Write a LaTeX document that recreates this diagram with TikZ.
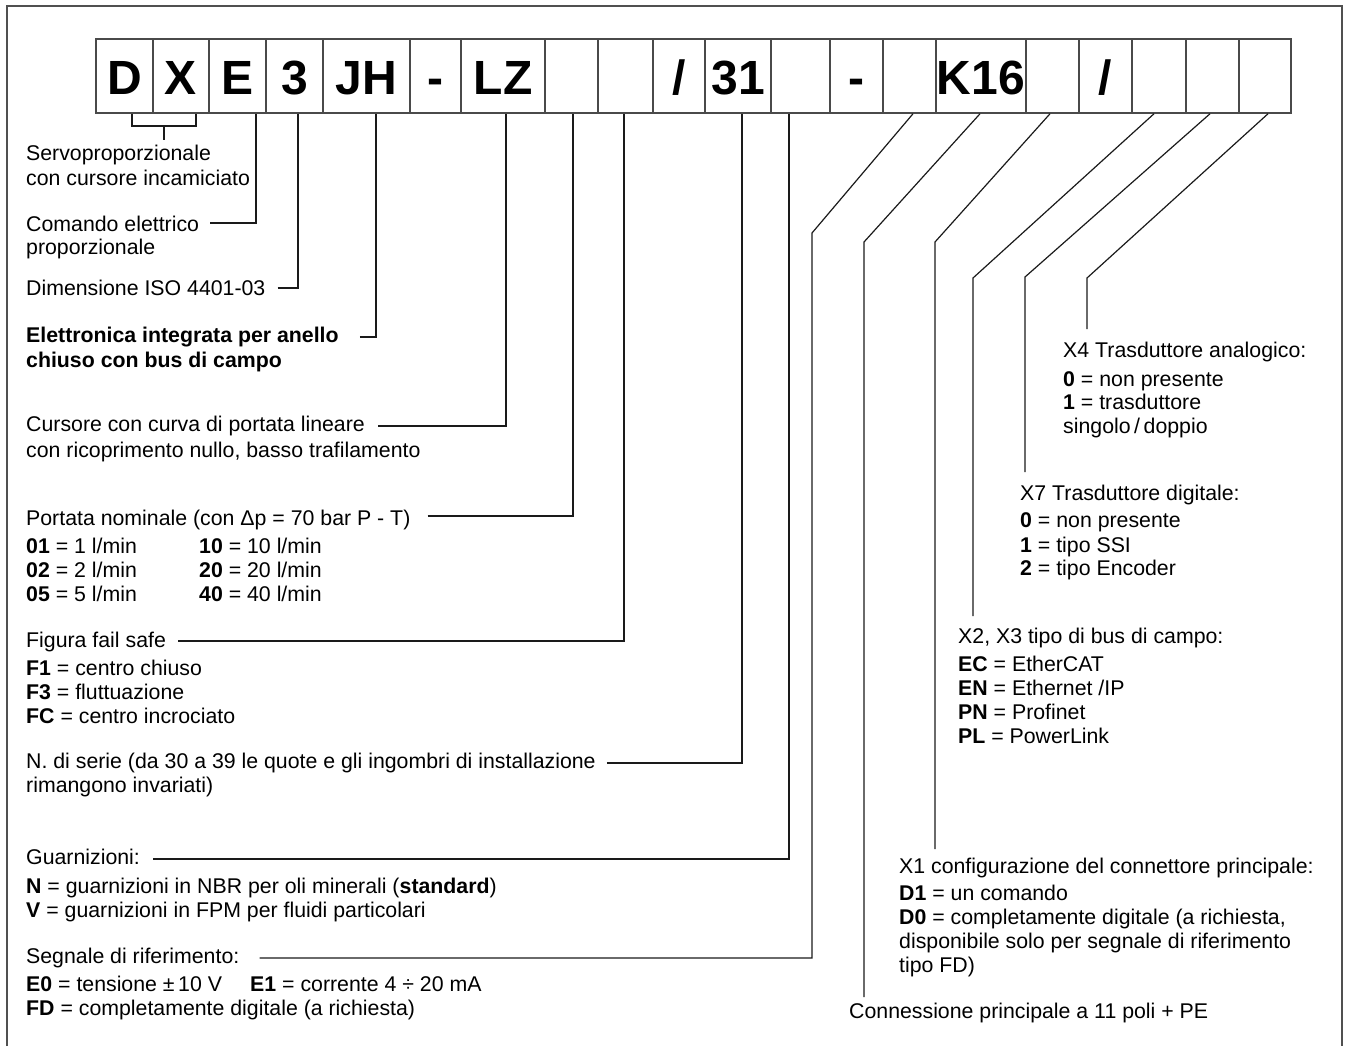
\documentclass[tikz,border=0pt]{standalone}
\usepackage{fontspec}
\setmainfont{Liberation Sans}
\definecolor{boxgray}{HTML}{4A4A4A}
\definecolor{framegray}{HTML}{505050}
\definecolor{leadcol}{HTML}{1A1A1A}
\def\SL{/}
\begin{document}
\begin{tikzpicture}[x=1pt,y=-1pt,
  box/.style={draw=boxgray, line width=1.5pt, minimum height=74pt, inner sep=0pt, anchor=center},
  lettr/.style={anchor=base, inner sep=0pt, font=\fontsize{48}{48}\selectfont\bfseries},
  txt/.style={anchor=base west, inner sep=0pt, font=\fontsize{21.3}{24}\selectfont},
  lead/.style={draw=leadcol, line width=1.2pt},
  frame/.style={draw=framegray, line width=2pt}]
\useasboundingbox (0,0) rectangle (1348,1046);
\draw[frame] (7,1046) -- (7,6) -- (1342,6) -- (1342,1046);
% code boxes
\foreach \l/\r/\t [count=\i] in {96/153/D,153/209/X,209/266/E,266/323/3,323/410/JH,410/461/-,461/545/LZ,545/598/{},598/653/{},653/705/\SL,705/771/31,771/830/{},830/883/-,883/936/{},936/1026/K16,1026/1079/{},1079/1132/\SL,1132/1186/{},1186/1239/{},1239/1291/{}}
{
  \node[box, minimum width={\r-\l}] (b\i) at ({(\l+\r)/2},76) {};
  \node[lettr] (l\i) at ({(\l+\r)/2},95) {\t};
}
% left column texts
\node[txt] (t1a) at (26,160) {Servoproporzionale};
\node[txt] (t1b) at (26,185) {con cursore incamiciato};
\node[txt] (t2a) at (26,231) {Comando elettrico};
\node[txt] (t2b) at (26,254) {proporzionale};
\node[txt] (t3) at (26,295) {Dimensione ISO 4401-03};
\node[txt] (t4a) at (26,342) {\textbf{Elettronica integrata per anello}};
\node[txt] (t4b) at (26,367) {\textbf{chiuso con bus di campo}};
\node[txt] (t5a) at (26,431) {Cursore con curva di portata lineare};
\node[txt] (t5b) at (26,457) {con ricoprimento nullo, basso trafilamento};
\node[txt] (t6) at (26,525) {Portata nominale (con Δp = 70 bar P - T)};
\node[txt] (t6a) at (26,553) {\textbf{01} = 1 l/min};
\node[txt] (t6b) at (26,577) {\textbf{02} = 2 l/min};
\node[txt] (t6c) at (26,601) {\textbf{05} = 5 l/min};
\node[txt] (t6d) at (199,553) {\textbf{10} = 10 l/min};
\node[txt] (t6e) at (199,577) {\textbf{20} = 20 l/min};
\node[txt] (t6f) at (199,601) {\textbf{40} = 40 l/min};
\node[txt] (t7) at (26,647) {Figura fail safe};
\node[txt] (t7a) at (26,675) {\textbf{F1} = centro chiuso};
\node[txt] (t7b) at (26,699) {\textbf{F3} = fluttuazione};
\node[txt] (t7c) at (26,723) {\textbf{FC} = centro incrociato};
\node[txt] (t8a) at (26,768) {N. di serie (da 30 a 39 le quote e gli ingombri di installazione};
\node[txt] (t8b) at (26,792) {rimangono invariati)};
\node[txt] (t9) at (26,864) {Guarnizioni:};
\node[txt] (t9a) at (26,893) {\textbf{N} = guarnizioni in NBR per oli minerali (\textbf{standard})};
\node[txt] (t9b) at (26,917) {\textbf{V} = guarnizioni in FPM per fluidi particolari};
\node[txt] (t10) at (26,963) {Segnale di riferimento:};
\node[txt] (t10a) at (26,991) {\textbf{E0} = tensione ±\,10 V};
\node[txt] (t10b) at (250,991) {\textbf{E1} = corrente 4 ÷ 20 mA};
\node[txt] (t10c) at (26,1015) {\textbf{FD} = completamente digitale (a richiesta)};
% right column texts
\node[txt] (r4) at (1063,357) {X4 Trasduttore analogico:};
\node[txt] (r4a) at (1063,386) {\textbf{0} = non presente};
\node[txt] (r4b) at (1063,409) {\textbf{1} = trasduttore};
\node[txt] (r4c) at (1063,433) {singolo\,/\,doppio};
\node[txt] (r7) at (1020,500) {X7 Trasduttore digitale:};
\node[txt] (r7a) at (1020,527) {\textbf{0} = non presente};
\node[txt] (r7b) at (1020,552) {\textbf{1} = tipo SSI};
\node[txt] (r7c) at (1020,575) {\textbf{2} = tipo Encoder};
\node[txt] (r2) at (958,643) {X2, X3 tipo di bus di campo:};
\node[txt] (r2a) at (958,671) {\textbf{EC} = EtherCAT};
\node[txt] (r2b) at (958,695) {\textbf{EN} = Ethernet /IP};
\node[txt] (r2c) at (958,719) {\textbf{PN} = Profinet};
\node[txt] (r2d) at (958,743) {\textbf{PL} = PowerLink};
\node[txt] (r1) at (899,873) {X1 configurazione del connettore principale:};
\node[txt] (r1a) at (899,900) {\textbf{D1} = un comando};
\node[txt] (r1b) at (899,924) {\textbf{D0} = completamente digitale (a richiesta,};
\node[txt] (r1c) at (899,948) {disponibile solo per segnale di riferimento};
\node[txt] (r1d) at (899,972) {tipo FD)};
\node[txt] (r0) at (849,1018) {Connessione principale a 11 poli + PE};
% leader start points
\coordinate (c2) at ([xshift=11pt]t2a.base east);
\coordinate (c3) at ([xshift=12pt]t3.base east);
\coordinate (c4) at ([xshift=21pt]t4a.base east);
\coordinate (c5) at ([xshift=13pt]t5a.base east);
\coordinate (c6) at ([xshift=17pt]t6.base east);
\coordinate (c7) at ([xshift=12pt]t7.base east);
\coordinate (c8) at ([xshift=11pt]t8a.base east);
\coordinate (c9) at ([xshift=13pt]t9.base east);
\coordinate (c10) at ([xshift=20pt]t10.base east);
% leaders
\draw[lead] (132,0 |- b1.south) -- (132,126) -- (196,126) -- (196,0 |- b2.south);
\coordinate (cbr) at (164,126);
\draw[lead] (cbr) -- (164,140);
\draw[lead] (c2 |- 0,223) -- (256,223) -- (256,0 |- b3.south);
\draw[lead] (c3 |- 0,288) -- (298,288) -- (298,0 |- b4.south);
\draw[lead] (c4 |- 0,337) -- (376,337) -- (376,0 |- b5.south);
\draw[lead] (c5 |- 0,426) -- (506,426) -- (506,0 |- b7.south);
\draw[lead] (c6 |- 0,516) -- (573,516) -- (573,0 |- b8.south);
\draw[lead] (c7 |- 0,641) -- (624,641) -- (624,0 |- b9.south);
\draw[lead] (c8 |- 0,763) -- (742,763) -- (742,0 |- b11.south);
\draw[lead] (c9 |- 0,859) -- (789,859) -- (789,0 |- b12.south);
\draw[lead] (c10 |- 0,958) -- (812,958) -- (812,233) -- (913,0 |- b14.south);
\draw[lead] (864,997) -- (864,242) -- (980,0 |- b15.south);
\draw[lead] (935,849) -- (935,242) -- (1050,0 |- b16.south);
\draw[lead] (973,616) -- (973,278) -- (1154,0 |- b18.south);
\draw[lead] (1025,472) -- (1025,277) -- (1210,0 |- b19.south);
\draw[lead] (1087,329) -- (1087,278) -- (1268,0 |- b20.south);
\end{tikzpicture}
\end{document}
